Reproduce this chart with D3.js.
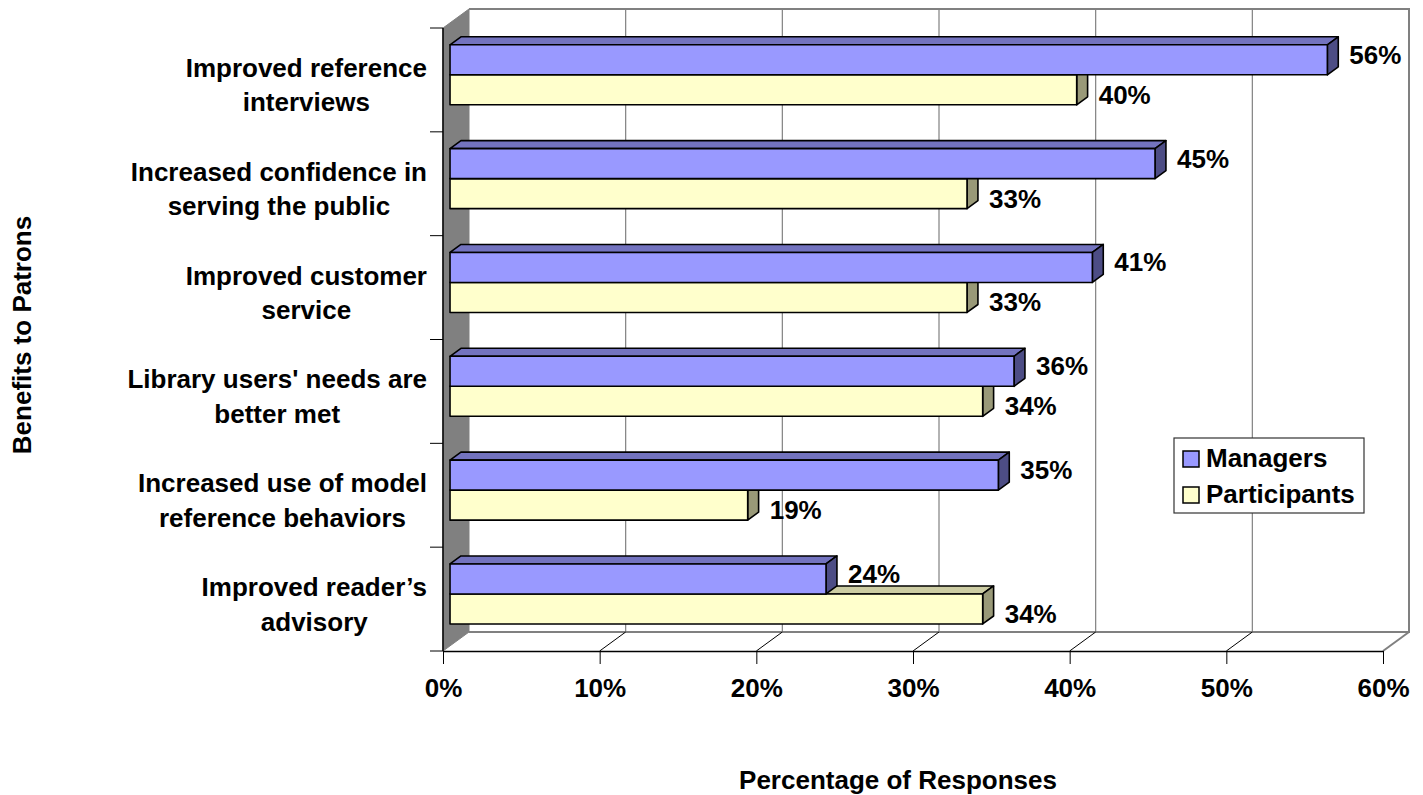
<!DOCTYPE html>
<html>
<head>
<meta charset="utf-8">
<script src="https://cdn.jsdelivr.net/npm/d3@7"></script>
<style>
  html, body { margin: 0; padding: 0; background: #ffffff; }
  svg { display: block; }
  text { font-family: "Liberation Sans", Arial, Helvetica, sans-serif; font-weight: bold; fill: #000; }
</style>
</head>
<body>
<svg id="chart" width="1423" height="795"></svg>
<script>
// Benefits to patrons, by respondent group (percentage of responses)
const categoryLines = [
  ["Improved reference", "interviews"],
  ["Increased confidence in", "serving the public"],
  ["Improved customer", "service"],
  ["Library users' needs are", "better met"],
  ["Increased use of model", "reference behaviors"],
  ["Improved reader\u2019s", "advisory"]
];
const categories = categoryLines.map(l => l.join(" "));
const seriesNames = ["Managers", "Participants"];
const managers = [56, 45, 41, 36, 35, 24];
const participants = [40, 33, 33, 34, 19, 34];
const xTicks = [0, 10, 20, 30, 40, 50, 60];
const xTitle = "Percentage of Responses";
const yTitle = "Benefits to Patrons";

// Face colours: front, top, side
const palette = {
  Managers:     { front: "#9999FF", top: "#7373BF", side: "#4D4D85" },
  Participants: { front: "#FFFFCC", top: "#CCCCA3", side: "#999978" }
};

const svg = d3.select("#chart");

// Front plane of the 3D box and its depth vector
const DX = 26, DY = -19;
const BAR_FRONT = 0.27, BAR_BACK = 0.69;

const x = d3.scaleLinear().domain([0, 60]).range([443, 1383]);
const y = d3.scaleBand().domain(categories).range([28, 651]).paddingInner(0).paddingOuter(0);
const ySeries = d3.scaleBand().domain(seriesNames).range([0, y.bandwidth()]).paddingInner(0).paddingOuter(0.73);

const [yTop, yBot] = y.range();
const [xL, xR] = x.range();

// ---- Back wall with gridlines
const g = svg.append("g");
g.append("rect")
  .attr("x", xL + DX).attr("y", yTop + DY)
  .attr("width", xR - xL).attr("height", yBot - yTop)
  .attr("fill", "#fff");

g.selectAll("line.grid")
  .data(xTicks.slice(1, -1))
  .join("line")
  .attr("class", "grid")
  .attr("x1", d => x(d) + DX).attr("x2", d => x(d) + DX)
  .attr("y1", yTop + DY).attr("y2", yBot + DY)
  .attr("stroke", "#808080").attr("stroke-width", 1.2);

// Wall outline (top and right) and floor back / right edges
g.append("path")
  .attr("d", `M${xL + DX},${yTop + DY}H${xR + DX}V${yBot + DY}H${xL + DX}`)
  .attr("fill", "none").attr("stroke", "#808080").attr("stroke-width", 2);
g.append("line")
  .attr("x1", xR).attr("y1", yBot).attr("x2", xR + DX).attr("y2", yBot + DY)
  .attr("stroke", "#808080").attr("stroke-width", 2);

// Floor diagonals from the front ticks to the back gridlines
g.selectAll("line.floor")
  .data(xTicks.slice(1, -1))
  .join("line")
  .attr("class", "floor")
  .attr("x1", d => x(d)).attr("y1", yBot)
  .attr("x2", d => x(d) + DX).attr("y2", yBot + DY)
  .attr("stroke", "#000").attr("stroke-width", 1);

// Left side wall
g.append("path")
  .attr("d", `M${xL},${yTop}L${xL + DX},${yTop + DY}L${xL + DX},${yBot + DY}L${xL},${yBot}Z`)
  .attr("fill", "#808080").attr("stroke", "#808080").attr("stroke-width", 1);
g.append("line")
  .attr("x1", xL).attr("x2", xL).attr("y1", yTop).attr("y2", yBot)
  .attr("stroke", "#000").attr("stroke-width", 1.5);

// Category tick marks on the left edge
const yBoundaries = categories.map(c => y(c)).concat([yBot]);
g.selectAll("line.ytick")
  .data(yBoundaries)
  .join("line")
  .attr("class", "ytick")
  .attr("x1", xL - 13).attr("x2", xL)
  .attr("y1", d => d).attr("y2", d => d)
  .attr("stroke", "#000").attr("stroke-width", 1);

// Front x axis
const xAxis = d3.axisBottom(x).tickValues(xTicks).tickFormat(d => d + "%").tickSize(13).tickSizeOuter(0);
const axisG = svg.append("g").attr("transform", `translate(0,${yBot})`).call(xAxis);
axisG.select(".domain").attr("stroke", "#000").attr("stroke-width", 1.5);
axisG.selectAll(".tick line").attr("stroke", "#000").attr("stroke-width", 1);
axisG.selectAll(".tick text")
  .attr("y", 46).attr("dy", 0)
  .style("font-size", "26px")
  .style("font-family", "'Liberation Sans', Arial, sans-serif")
  .style("font-weight", "bold")
  .attr("fill", "#000");

// ---- Bars (participants first so the managers bar sits over its top face)
const fx = BAR_FRONT * DX, fy = BAR_FRONT * DY;
const ddx = (BAR_BACK - BAR_FRONT) * DX, ddy = (BAR_BACK - BAR_FRONT) * DY;

const rows = [];
categories.forEach((c, i) => {
  rows.push({ cat: c, series: "Participants", value: participants[i] });
  rows.push({ cat: c, series: "Managers", value: managers[i] });
});

const barG = svg.append("g");
rows.forEach(r => {
  const col = palette[r.series];
  const yt = y(r.cat) + ySeries(r.series) + fy;
  const yb = yt + ySeries.bandwidth();
  const xl = x(0) + fx;
  const xr = x(r.value) + fx;
  const bg = barG.append("g").attr("stroke", "#000").attr("stroke-width", 1.6).attr("stroke-linejoin", "round");
  bg.append("path")
    .attr("d", `M${xl},${yt}L${xl + ddx},${yt + ddy}L${xr + ddx},${yt + ddy}L${xr},${yt}Z`)
    .attr("fill", col.top);
  bg.append("path")
    .attr("d", `M${xr},${yt}L${xr + ddx},${yt + ddy}L${xr + ddx},${yb + ddy}L${xr},${yb}Z`)
    .attr("fill", col.side);
  bg.append("rect")
    .attr("x", xl).attr("y", yt).attr("width", xr - xl).attr("height", yb - yt)
    .attr("fill", col.front);

  const yc = (yt + yb) / 2;
  svg.append("text")
    .attr("x", xr + 22)
    .attr("y", r.series === "Managers" ? yc + 4 : yc + 14)
    .style("font-size", "26px")
    .text(r.value + "%");
});

// ---- Category labels: each label centred on its own lines, block right-aligned
const labelG = svg.append("g");
categoryLines.forEach((lines, i) => {
  const cy = y(categories[i]) + y.bandwidth() / 2;
  const t = labelG.append("text").style("font-size", "26px").attr("text-anchor", "middle");
  const spans = lines.map((ln, k) =>
    t.append("tspan").attr("y", cy - 3 + k * 34.5).text(ln));
  const maxW = d3.max(spans, s => s.node().getComputedTextLength());
  spans.forEach(s => s.attr("x", 427 - maxW / 2));
});

// ---- Axis titles
svg.append("text")
  .attr("x", 898).attr("y", 789)
  .attr("text-anchor", "middle")
  .style("font-size", "26px")
  .text(xTitle);

svg.append("text")
  .attr("transform", "translate(31,335) rotate(-90)")
  .attr("text-anchor", "middle")
  .style("font-size", "26px")
  .text(yTitle);

// ---- Legend
const lg = svg.append("g").attr("transform", "translate(1174,438)");
lg.append("rect").attr("width", 190).attr("height", 75)
  .attr("fill", "#fff").attr("stroke", "#333").attr("stroke-width", 1.2);
seriesNames.forEach((s, i) => {
  lg.append("rect")
    .attr("x", 9).attr("y", 13 + i * 36).attr("width", 16).attr("height", 16)
    .attr("fill", palette[s].front).attr("stroke", "#000").attr("stroke-width", 1.5);
  lg.append("text")
    .attr("x", 32).attr("y", 29 + i * 36)
    .style("font-size", "26px")
    .text(s);
});
</script>
</body>
</html>
